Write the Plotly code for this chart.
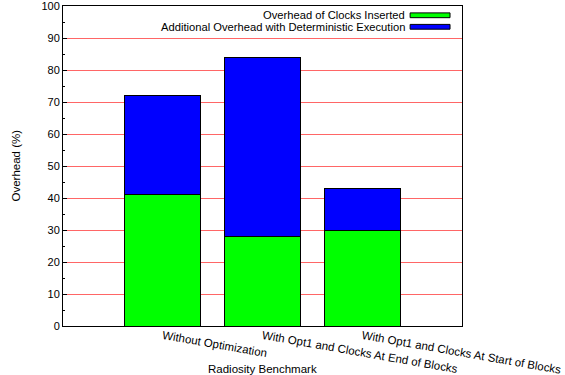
import plotly.graph_objects as go

categories = ["Without Optimization",
              "With Opt1 and Clocks At End of Blocks",
              "With Opt1 and Clocks At Start of Blocks"]
clocks_overhead = [41, 28, 30]
determinism_overhead = [31, 56, 13]
series_names = ["Overhead of Clocks Inserted",
                "Additional Overhead with Deterministic Execution"]
series_colors = ["#00ff00", "#0000ff"]
y_ticks = [0, 10, 20, 30, 40, 50, 60, 70, 80, 90, 100]

FONT = "Liberation Sans, Arial, sans-serif"
xpos = list(range(len(categories)))

fig = go.Figure()
for vals, name, col in zip([clocks_overhead, determinism_overhead], series_names, series_colors):
    fig.add_trace(go.Bar(x=xpos, y=vals, name=name, width=0.76,
                         marker=dict(color=col, line=dict(color="black", width=1)),
                         showlegend=False))

# legend drawn manually: right-aligned text, swatch on the right
for i, (name, col) in enumerate(zip(series_names, series_colors)):
    yc = 0.971 - i * 0.036
    fig.add_annotation(xref="paper", yref="paper", x=0.859, y=yc, text=name,
                       showarrow=False, xanchor="right", yanchor="middle",
                       borderpad=0,
                       font=dict(family=FONT, size=11.2, color="black"))
    fig.add_shape(type="rect", xref="paper", yref="paper",
                  x0=0.870, x1=0.970, y0=yc - 0.0075, y1=yc + 0.0075,
                  fillcolor=col, line=dict(color="black", width=1))

fig.add_annotation(xref="paper", yref="paper", x=0.5, y=-0.108,
                   text="Radiosity Benchmark", showarrow=False,
                   xanchor="center", yanchor="top",
                   font=dict(family=FONT, size=11.5, color="black"))
fig.add_annotation(xref="paper", yref="paper", x=-0.119, y=0.5,
                   text="Overhead (%)", showarrow=False, textangle=-90,
                   xanchor="center", yanchor="middle",
                   font=dict(family=FONT, size=11.5, color="black"))

fig.update_layout(
    barmode="stack",
    width=565, height=375,
    margin=dict(l=63, r=103, t=6, b=49),
    paper_bgcolor="white", plot_bgcolor="white",
    font=dict(family=FONT, size=11, color="black"),
    xaxis=dict(range=[-1, 3], tickvals=xpos, ticktext=categories,
               tickangle=10, ticks="", showgrid=False,
               showline=True, mirror=True, linecolor="black", linewidth=1,
               automargin=False, ticklabeloverflow="allow",
               ticklabelstandoff=-2,
               tickfont=dict(size=11.5)),
    yaxis=dict(range=[0, 100], tickvals=y_ticks, ticks="inside", ticklen=4,
               tickcolor="black", showgrid=True, gridcolor="rgba(255,0,0,0.6)",
               gridwidth=1, zeroline=False,
               showline=True, mirror=True, linecolor="black", linewidth=1,
               minor=dict(dtick=5, ticks="inside", ticklen=2, tickcolor="black", showgrid=False),
               automargin=False, ticklabeloverflow="allow",
               tickfont=dict(size=11)),
)

fig.write_html("out.html")
